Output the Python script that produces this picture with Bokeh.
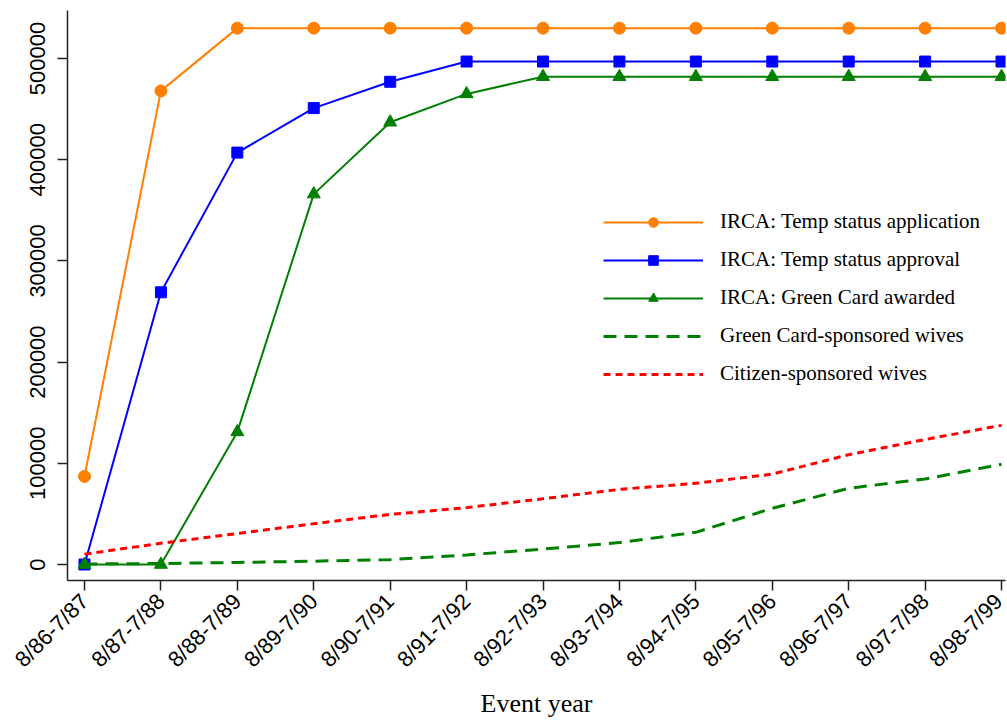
import math
from bokeh.plotting import figure
from bokeh.models import Range1d, FixedTicker, NumeralTickFormatter, Legend, LegendItem
from bokeh.embed import file_html
from bokeh.resources import INLINE

# ---- data ----
event_years = ["8/86-7/87", "8/87-7/88", "8/88-7/89", "8/89-7/90", "8/90-7/91",
               "8/91-7/92", "8/92-7/93", "8/93-7/94", "8/94-7/95", "8/95-7/96",
               "8/96-7/97", "8/97-7/98", "8/98-7/99"]
temp_application = [87000, 468000, 530000, 530000, 530000, 530000, 530000,
                    530000, 530000, 530000, 530000, 530000, 530000]
temp_approval = [0, 269000, 407000, 451000, 477000, 497000, 497000,
                 497000, 497000, 497000, 497000, 497000, 497000]
green_card_awarded = [0, 0, 131000, 366000, 437000, 465000, 482000,
                      482000, 482000, 482000, 482000, 482000, 482000]
gc_sponsored_wives = [500, 1000, 2000, 3300, 4800, 9500, 15200,
                      21700, 31800, 55500, 75300, 84500, 99000]
citizen_sponsored_wives = [10200, 21000, 30600, 40300, 49500, 56200, 65000,
                           74200, 80200, 89300, 108500, 123500, 137500]
y_ticks = [0, 100000, 200000, 300000, 400000, 500000]

legend_labels = ["IRCA: Temp status application", "IRCA: Temp status approval",
                 "IRCA: Green Card awarded", "Green Card-sponsored wives",
                 "Citizen-sponsored wives"]

xs = list(range(len(event_years)))

p = figure(width=1007, height=720, output_backend="svg", toolbar_location=None,
           x_range=Range1d(-0.2225, 12.052), y_range=Range1d(-15810, 547430),
           min_border_left=67, min_border_right=2, min_border_top=10,
           min_border_bottom=140)
p.outline_line_color = None
p.xgrid.grid_line_color = None
p.ygrid.grid_line_color = None
p.background_fill_color = "white"
p.border_fill_color = "white"

ORANGE = "#FF7F00"
BLUE = "#0000FF"
GREEN = "#008000"
RED = "#FF0000"

l1 = p.line(xs, temp_application, line_color=ORANGE, line_width=2)
s1 = p.scatter(xs, temp_application, marker="circle", size=12, fill_color=ORANGE, line_color=ORANGE)
l2 = p.line(xs, temp_approval, line_color=BLUE, line_width=2)
s2 = p.scatter(xs, temp_approval, marker="square", size=11, fill_color=BLUE, line_color=BLUE)
l3 = p.line(xs, green_card_awarded, line_color=GREEN, line_width=2)
s3 = p.scatter(xs, green_card_awarded, marker="triangle", size=13, fill_color=GREEN, line_color=GREEN)
l4 = p.line(xs, gc_sponsored_wives, line_color=GREEN, line_width=3, line_dash="13 8")
l5 = p.line(xs, citizen_sponsored_wives, line_color=RED, line_width=3, line_dash="7 5")

# axes
p.xaxis.ticker = FixedTicker(ticks=xs)
p.xaxis.major_label_overrides = {i: lab for i, lab in enumerate(event_years)}
p.xaxis.major_label_orientation = math.pi / 4
p.xaxis.major_label_text_font = "Liberation Sans"
p.xaxis.major_label_text_font_size = "22px"
p.xaxis.major_label_standoff = 7
p.xaxis.axis_label = "Event year"
p.xaxis.axis_label_text_font = "Liberation Serif"
p.xaxis.axis_label_text_font_size = "26px"
p.xaxis.axis_label_text_font_style = "normal"
p.xaxis.axis_label_standoff = 5
p.xaxis.minor_tick_line_color = None

p.yaxis.ticker = FixedTicker(ticks=y_ticks)
p.yaxis.formatter = NumeralTickFormatter(format="0")
p.yaxis.major_label_orientation = "parallel"
p.yaxis.major_label_text_font = "Liberation Sans"
p.yaxis.major_label_text_font_size = "22px"
p.yaxis.major_label_standoff = 12
p.yaxis.minor_tick_line_color = None

for ax in (p.xaxis, p.yaxis):
    ax.axis_line_color = "#222222"
    ax.axis_line_width = 1.5
    ax.major_tick_line_color = "#222222"
    ax.major_tick_line_width = 1.5
    ax.major_tick_out = 10
    ax.major_tick_in = 0
    ax.major_label_text_color = "black"
    ax.axis_label_text_color = "black"

legend = Legend(items=[
    LegendItem(label=legend_labels[0], renderers=[l1, s1]),
    LegendItem(label=legend_labels[1], renderers=[l2, s2]),
    LegendItem(label=legend_labels[2], renderers=[l3, s3]),
    LegendItem(label=legend_labels[3], renderers=[l4]),
    LegendItem(label=legend_labels[4], renderers=[l5]),
], location=(536, 194))
legend.padding = 0
legend.margin = 0
legend.border_line_color = None
legend.background_fill_alpha = 0
legend.glyph_width = 100
legend.glyph_height = 24
legend.label_height = 24
legend.spacing = 13
legend.label_standoff = 17
legend.label_text_font = "Liberation Serif"
legend.label_text_font_size = "21px"
legend.label_text_color = "black"
p.add_layout(legend, "center")

open("out.html", "w").write(file_html(p, INLINE))
